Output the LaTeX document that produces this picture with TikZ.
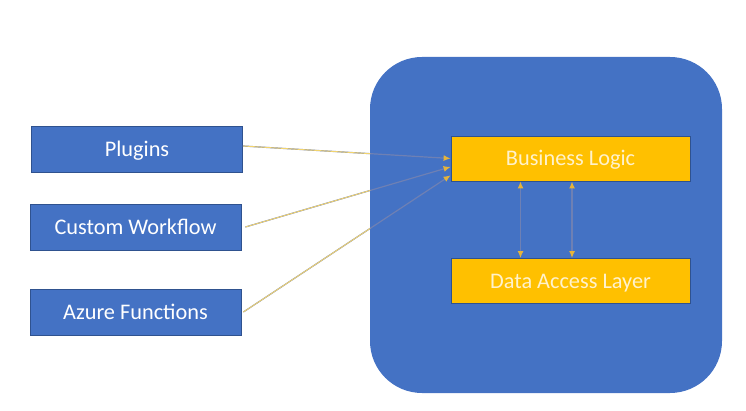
\documentclass[tikz,border=0pt]{standalone}
\usepackage{fontspec}
\setmainfont{Carlito}
\usetikzlibrary{arrows.meta}

\definecolor{boxblue}{HTML}{4472C4}
\definecolor{edgeblue}{HTML}{2F528F}
\definecolor{boxgold}{HTML}{FFC000}
\definecolor{cream}{HTML}{FFF2CC}
\definecolor{linkgold}{HTML}{F2D46E}
\definecolor{tipgold}{HTML}{E6B43A}
\definecolor{shaftgray}{HTML}{6E80B4}

\tikzset{
  source/.style={draw=edgeblue, line width=0.8pt, fill=boxblue, text=white,
    minimum width=211pt, minimum height=46pt, inner sep=0pt,
    text height=14.3pt, text depth=0pt,
    font=\fontsize{22.3}{26}\selectfont},
  layer/.style={draw=edgeblue, line width=0.8pt, fill=boxgold, text=cream,
    minimum width=239pt, minimum height=45pt, inner sep=0pt,
    text height=14.3pt, text depth=0pt,
    font=\fontsize{22.3}{26}\selectfont},
  link/.style={line width=1.2pt, shaftgray, -{Latex[length=7pt,width=6pt,color=tipgold]}},
  dual/.style={line width=1.8pt, shaftgray,
    {Latex[length=7pt,width=6pt,color=tipgold]}-{Latex[length=7pt,width=6pt,color=tipgold]}}
}

\begin{document}
\begin{tikzpicture}[x=1pt, y=-1pt]
  \useasboundingbox (0,0) rectangle (746,411);

  % Container
  \fill[boxblue, rounded corners=52pt] (370,57) rectangle (722,393);

  % Define nodes
  \node[source] (plug) at (137,149) {Plugins};
  \node[source] (flow) at (135.5,227) {Custom Workflow};
  \node[source] (azure) at (135.5,312) {Azure Functions};
  \node[layer] (bl) at (570.5,158.5) {Business Logic};
  \node[layer] (dal) at (570.5,281) {Data Access Layer};

  % Draw edges
  \draw[link] ([yshift=3pt]plug.east) -- (bl.west);
  \draw[link] ([xshift=4pt]flow.east) -- (bl.184.5);
  \draw[link] ([xshift=2pt]azure.east) -- (bl.188);
  \draw[dual] ([xshift=-50pt]bl.south) -- ([xshift=-50pt]dal.north);
  \draw[dual] ([xshift=1.5pt]bl.south) -- ([xshift=1.5pt]dal.north);

  % yellow part of the links, outside the container
  \begin{scope}
    \clip (0,0) rectangle (370,411);
    \draw[linkgold, line width=0.9pt] ([yshift=3pt]plug.east) -- (bl.west);
    \draw[linkgold, line width=0.9pt] ([xshift=4pt]flow.east) -- (bl.184.5);
    \draw[linkgold, line width=0.9pt] ([xshift=2pt]azure.east) -- (bl.188);
  \end{scope}
\end{tikzpicture}
\end{document}
